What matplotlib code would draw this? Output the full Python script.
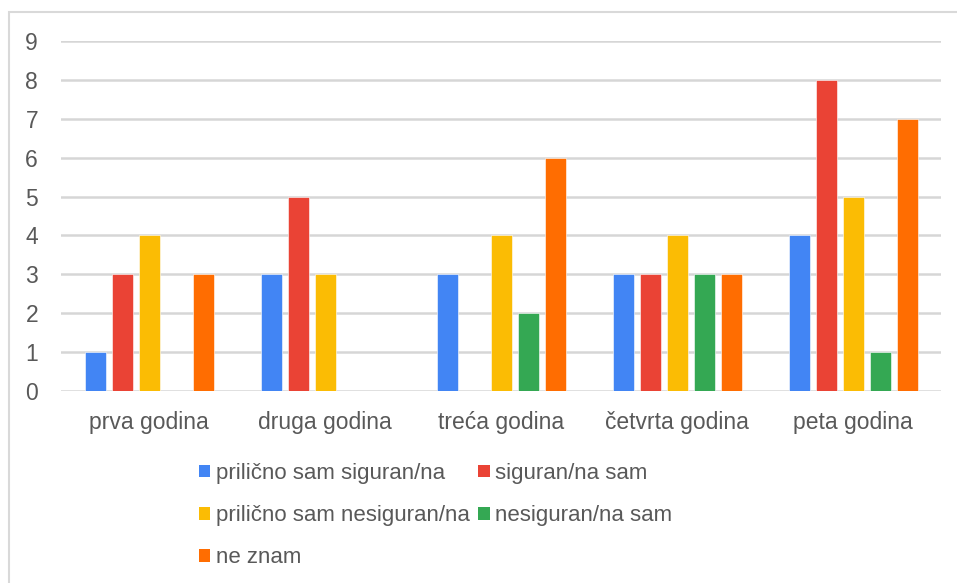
import matplotlib
matplotlib.use("Agg")
import matplotlib.pyplot as plt
from matplotlib.patches import Patch, Rectangle
import numpy as np

plt.rcParams['font.family'] = ['Liberation Sans', 'DejaVu Sans']

categories = ["prva godina", "druga godina", "treća godina", "četvrta godina", "peta godina"]
series_names = ["prilično sam siguran/na", "siguran/na sam",
                "prilično sam nesiguran/na", "nesiguran/na sam", "ne znam"]
pril_siguran = [1, 3, 3, 3, 4]
siguran = [3, 5, 0, 3, 8]
pril_nesiguran = [4, 3, 4, 4, 5]
nesiguran = [0, 0, 2, 3, 1]
ne_znam = [3, 0, 6, 3, 7]
series_values = [pril_siguran, siguran, pril_nesiguran, nesiguran, ne_znam]
colors = ["#4285F4", "#EA4335", "#FBBC04", "#34A853", "#FF6D01"]
yticks = list(range(0, 10))

W, H = 957, 583
fig = plt.figure(figsize=(W / 100, H / 100), dpi=100)
ax = fig.add_axes([61 / W, 1 - 391 / H, 880 / W, 350 / H])

x = np.arange(len(categories))
step = 27 / 176
bw = 21 / 176
for i, (vals, c) in enumerate(zip(series_values, colors)):
    ax.bar(x + (i - 2) * step, vals, width=bw, color=c, edgecolor='#ffffff',
           linewidth=0.4, zorder=3)

ax.set_xlim(-0.5, len(categories) - 0.5)
ax.set_ylim(0, 9)
ax.set_yticks(yticks)
ax.set_xticks(x)
ax.set_xticklabels(categories)
ax.grid(axis='y', color='#d6d6d6', linewidth=1.8, zorder=0)
for s in ax.spines.values():
    s.set_visible(False)
ax.tick_params(axis='both', length=0, labelsize=16.5, colors='#595959')
ax.tick_params(axis='y', pad=16.5)
ax.tick_params(axis='x', pad=14.5)

order = [0, 2, 4, 1, 3]
handles = [Patch(facecolor=colors[i], edgecolor='none') for i in order]
labels = [series_names[i] for i in order]
leg = fig.legend(handles, labels, ncol=2, loc='upper left',
                 bbox_to_anchor=(199 / W, 1 - 463 / H), frameon=False,
                 fontsize=16, handlelength=0.5, handleheight=0.5,
                 handletextpad=0.25, columnspacing=0.4, labelspacing=0.95,
                 borderaxespad=0, borderpad=0)
for t in leg.get_texts():
    t.set_color('#595959')

fig.patches.append(Rectangle((9 / W, -0.1), 1.2, 1.1 - 12 / H,
                             transform=fig.transFigure, fill=False,
                             edgecolor='#d9d9d9', linewidth=1.5))

fig.savefig("out.png", dpi=100)
